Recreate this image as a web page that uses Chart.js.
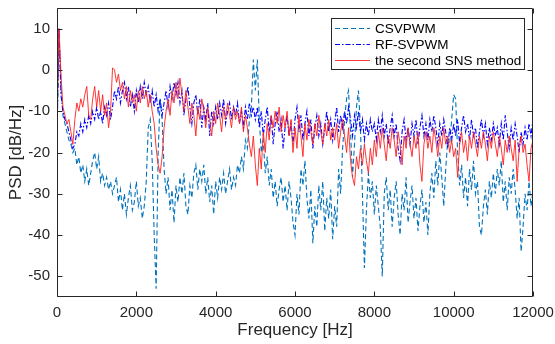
<!DOCTYPE html>
<html>
<head>
<meta charset="utf-8">
<script src="https://cdn.jsdelivr.net/npm/chart.js@4"></script>
<style>
  html, body { margin: 0; padding: 0; background: #fff; }
  #psd { display: block; }
</style>
</head>
<body>
<canvas id="psd" width="555" height="344"></canvas>
<script>
// frequency grid, 50 Hz step from 0 to 12000 Hz
const freqStep = 50;
const freq = Array.from({ length: 241 }, (_, i) => i * freqStep);

const xTicks = [0, 2000, 4000, 6000, 8000, 10000, 12000];
const yTicks = [-50, -40, -30, -20, -10, 0, 10];

const seriesNames = ['CSVPWM', 'RF-SVPWM', 'the second SNS method'];

// PSD values, dB/Hz
const csvpwm = [
  -16, 10, -4, -11, -13, -15, -17, -18, -20, -19, -23, -21, -25, -23, -27, -24, -28, -25, -22, -20,
  -24, -21, -27, -25, -28, -26, -29, -27, -30, -28, -26, -32, -29, -34, -30, -35, -31, -28, -34, -32,
  -27, -33, -31, -36, -33, -27, -14, -12, -22, -40, -53, -20, -7, -12, -24, -30, -26, -34, -29, -37,
  -28, -32, -26, -30, -25, -33, -35, -28, -31, -25, -23, -29, -24, -27, -23, -30, -26, -32, -28, -35,
  -27, -31, -26, -29, -25, -30, -27, -24, -29, -26, -28, -23, -25, -21, -24, -17, -19, -12, -9, 2.5,
  -5, 2.5, -12, -20, -17, -25, -21, -28, -24, -31, -27, -33, -29, -26, -32, -28, -34, -27, -31, -37,
  -40, -30, -35, -24, -28, -22, -31, -36, -29, -42, -33, -38, -28, -34, -27, -39, -31, -36, -29, -41,
  -33, -38, -24, -30, -19, -12, -7, -5, -15, -26, -18, -9, -5, -14, -30, -48, -34, -25, -31, -27,
  -35, -28, -33, -38, -50, -30, -26, -34, -29, -38, -31, -27, -35, -40, -30, -34, -26, -37, -32, -28,
  -36, -31, -39, -33, -29, -37, -32, -40, -30, -25, -31, -22, -28, -20, -26, -33, -24, -17, -18, -12,
  -6, -7, -20, -28, -23, -31, -26, -33, -24, -29, -22, -30, -27, -38, -40, -33, -29, -35, -27, -31,
  -25, -30, -24, -28, -22, -32, -27, -34, -26, -30, -24, -29, -36, -31, -44, -38, -30, -34, -27, -33, -29
];

const rfsvpwm = [
  -17, 10, -6, -10, -12, -13, -15, -17, -19, -18, -15, -16, -13, -15, -12, -14, -11, -13, -10, -12,
  -9, -12, -10, -13, -9, -11, -8, -12, -9, -5, -7, -4, -8, -5, -3, -7, -4, -9, -6, -10,
  -5, -8, -4, -7, -3, -6, -4, -8, -5, -9, -6, -10, -7, -11, -8, -5, -9, -4, -7, -3,
  -6, -3, -8, -5, -11, -7, -4, -9, -13, -8, -6, -11, -7, -14, -9, -12, -8, -16, -10, -13,
  -9, -12, -8, -11, -7, -13, -10, -8, -12, -9, -11, -8, -13, -10, -14, -9, -12, -8, -11, -9,
  -12, -9, -14, -10, -16, -12, -9, -15, -11, -18, -13, -10, -15, -12, -19, -14, -11, -16, -13, -18,
  -12, -9, -15, -11, -17, -13, -10, -16, -12, -19, -14, -11, -16, -13, -18, -14, -10, -15, -12, -17,
  -13, -9, -15, -11, -14, -10, -13, -9, -12, -16, -11, -14, -10, -15, -12, -17, -13, -16, -12, -15,
  -13, -17, -12, -15, -11, -16, -13, -18, -14, -11, -16, -13, -19, -22, -15, -12, -17, -14, -18, -13,
  -16, -12, -18, -14, -11, -16, -13, -17, -12, -15, -11, -14, -18, -13, -16, -12, -15, -19, -14, -17,
  -13, -16, -12, -18, -14, -11, -15, -13, -17, -12, -16, -14, -19, -15, -12, -16, -13, -18, -14, -17,
  -13, -16, -14, -18, -13, -17, -11, -15, -19, -14, -17, -13, -16, -20, -15, -18, -14, -17, -13, -16, -12
];

const secondSns = [
  -12, 10, -1, -9, -11, -13, -12, -15, -18, -12, -8, -10, -7, -9, -6, -4, -11, -12, -7, -4,
  -9, -5, -10, -6, -11, -8, -14, -10, 0.5, 0, -3, -1, -5, -3, -7, -4, -9, -5, -8, -6,
  -10, -5, -8, -4, -7, -5, -9, -6, -10, -13, -19, -23, -25, -21, -14, -10, -7, -11, -5, -8,
  -3, -7, -2, -6, -10, -5, -9, -13, -8, -11, -16, -9, -12, -7, -10, -14, -9, -12, -16, -10,
  -13, -8, -11, -15, -9, -12, -8, -11, -14, -9, -12, -10, -13, -9, -15, -11, -14, -18, -21, -16,
  -23, -28, -19, -24, -15, -20, -13, -17, -11, -14, -10, -13, -9, -15, -11, -14, -10, -16, -12, -20,
  -14, -19, -11, -16, -21, -13, -17, -12, -15, -18, -13, -16, -11, -15, -18, -13, -16, -12, -17, -14,
  -17, -13, -19, -15, -12, -16, -20, -14, -22, -26, -28, -21, -24, -19, -23, -18, -22, -25, -19, -23,
  -17, -21, -15, -19, -14, -18, -22, -16, -19, -14, -17, -21, -15, -18, -23, -16, -19, -14, -18, -21,
  -16, -19, -15, -23, -27, -18, -15, -19, -16, -20, -14, -17, -21, -16, -19, -14, -18, -16, -20, -17,
  -21, -19, -26, -18, -15, -20, -17, -22, -16, -19, -15, -18, -21, -16, -19, -15, -18, -22, -16, -19,
  -15, -18, -21, -16, -19, -23, -17, -20, -16, -19, -22, -17, -27, -19, -16, -20, -18, -23, -27, -19, -17
];

const axisColor = '#262626';
const fontFamily = '"Liberation Sans", Arial, Helvetica, sans-serif';

function pairs(vals) {
  return freq.map((f, i) => ({ x: f, y: vals[i] }));
}

// MATLAB style box with inward ticks on all sides, plus the legend
const matlabBox = {
  id: 'matlabBox',
  afterDraw(chart) {
    const { ctx, chartArea: a, scales: { x, y } } = chart;
    const L = Math.round(a.left) + 0.5, R = Math.round(a.right) - 0.5;
    const T = Math.round(a.top) + 0.5, B = Math.round(a.bottom) - 0.5;
    const tl = 5;
    ctx.save();
    ctx.strokeStyle = axisColor;
    ctx.lineWidth = 1;
    ctx.beginPath();
    ctx.rect(L, T, R - L, B - T);
    xTicks.forEach(v => {
      const px = Math.round(x.getPixelForValue(v)) + 0.5;
      ctx.moveTo(px, B); ctx.lineTo(px, B - tl);
      ctx.moveTo(px, T); ctx.lineTo(px, T + tl);
    });
    yTicks.forEach(v => {
      const py = Math.round(y.getPixelForValue(v)) + 0.5;
      ctx.moveTo(L, py); ctx.lineTo(L + tl, py);
      ctx.moveTo(R, py); ctx.lineTo(R - tl, py);
    });
    ctx.stroke();

    // legend
    const bx = 331.5, by = 18.5, bw = 193, bh = 51;
    ctx.fillStyle = '#fff';
    ctx.fillRect(bx, by, bw, bh);
    ctx.strokeStyle = axisColor;
    ctx.strokeRect(bx, by, bw, bh);
    ctx.font = '13.5px ' + fontFamily;
    ctx.textBaseline = 'middle';
    chart.data.datasets.forEach((ds, i) => {
      const ry = 28 + i * 16;
      ctx.strokeStyle = ds.borderColor;
      ctx.lineWidth = ds.borderWidth;
      ctx.setLineDash(ds.borderDash || []);
      ctx.beginPath();
      ctx.moveTo(335, ry + 0.5);
      ctx.lineTo(370, ry + 0.5);
      ctx.stroke();
      ctx.setLineDash([]);
      ctx.fillStyle = '#000';
      ctx.fillText(ds.label, 375, ry + 1);
    });
    ctx.restore();
  }
};

new Chart(document.getElementById('psd').getContext('2d'), {
  type: 'line',
  data: {
    datasets: [
      {
        label: seriesNames[0],
        data: pairs(csvpwm),
        borderColor: '#0072BD',
        borderWidth: 1.1,
        borderDash: [5, 3],
        order: 3
      },
      {
        label: seriesNames[1],
        data: pairs(rfsvpwm),
        borderColor: '#0000FF',
        borderWidth: 1.1,
        borderDash: [5, 2, 1.5, 2],
        order: 2
      },
      {
        label: seriesNames[2],
        data: pairs(secondSns),
        borderColor: '#FF2020',
        borderWidth: 0.9,
        order: 1
      }
    ]
  },
  options: {
    responsive: false,
    animation: false,
    devicePixelRatio: 1,
    layout: { padding: { left: 0, right: 22, top: 8, bottom: 0 } },
    elements: { point: { radius: 0 }, line: { tension: 0 } },
    plugins: {
      legend: { display: false },
      tooltip: { enabled: false }
    },
    scales: {
      x: {
        type: 'linear',
        min: 0,
        max: 12000,
        afterBuildTicks: s => { s.ticks = xTicks.map(v => ({ value: v })); },
        afterFit: s => { s.height = 47; s.paddingLeft = 0; s.paddingRight = 0; },
        grid: { display: false, drawTicks: false },
        border: { display: false },
        ticks: {
          padding: 7,
          maxRotation: 0,
          color: axisColor,
          font: { family: fontFamily, size: 15 },
          callback: v => String(v)
        },
        title: {
          display: true,
          text: 'Frequency [Hz]',
          color: axisColor,
          font: { family: fontFamily, size: 17 },
          padding: { top: 0, bottom: 3 }
        }
      },
      y: {
        min: -55,
        max: 15,
        afterBuildTicks: s => { s.ticks = yTicks.map(v => ({ value: v })); },
        afterFit: s => { s.width = 57; s.paddingTop = 0; s.paddingBottom = 0; },
        grid: { display: false, drawTicks: false },
        border: { display: false },
        ticks: {
          padding: 7,
          color: axisColor,
          font: { family: fontFamily, size: 15 },
          callback: v => String(v)
        },
        title: {
          display: true,
          text: 'PSD [dB/Hz]',
          color: axisColor,
          font: { family: fontFamily, size: 17 },
          padding: { top: 6, bottom: 0 }
        }
      }
    }
  },
  plugins: [matlabBox]
});
</script>
</body>
</html>
